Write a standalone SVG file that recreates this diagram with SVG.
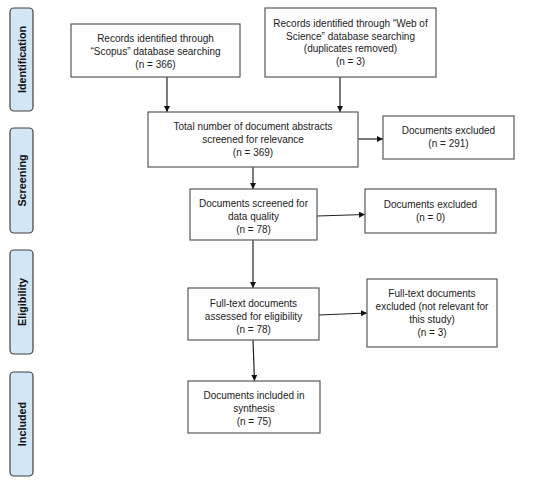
<svg xmlns="http://www.w3.org/2000/svg" width="552" height="483" viewBox="0 0 552 483">
<style>
.box{fill:#fff;stroke:#595959;stroke-width:1.2}
.side{fill:#d3e6f6;stroke:#404040;stroke-width:1.2}
.t{font-family:"Liberation Sans",Arial,sans-serif;font-size:10px;fill:#222;text-anchor:middle}
.s{font-family:"Liberation Sans",Arial,sans-serif;font-size:10.8px;font-weight:bold;fill:#111;text-anchor:middle}
.c{stroke:#222;stroke-width:1.2;fill:none;marker-end:url(#a)}
</style>
<defs>
<marker id="a" viewBox="0 0 10 10" refX="10" refY="5" markerWidth="6" markerHeight="6" markerUnits="userSpaceOnUse" orient="auto">
<path d="M0,0L10,5L0,10z" fill="#111"/>
</marker>
</defs>
<rect width="552" height="483" fill="#fff"/>
<g id="side-identification"><rect class="side" x="10" y="8" width="23" height="103" rx="4"/><text class="s" transform="translate(25.5,59.5) rotate(-90)">Identification</text></g>
<g id="side-screening"><rect class="side" x="10" y="128" width="23" height="105" rx="4"/><text class="s" transform="translate(25.5,180.5) rotate(-90)">Screening</text></g>
<g id="side-eligibility"><rect class="side" x="10" y="250" width="23" height="104" rx="4"/><text class="s" transform="translate(25.5,302) rotate(-90)">Eligibility</text></g>
<g id="side-included"><rect class="side" x="10" y="372" width="23" height="104" rx="4"/><text class="s" transform="translate(25.5,424) rotate(-90)">Included</text></g>
<g id="connectors">
<line class="c" x1="167" y1="77" x2="167" y2="112"/>
<line class="c" x1="340" y1="77" x2="340" y2="112"/>
<line class="c" x1="358" y1="139" x2="383" y2="139"/>
<line class="c" x1="253" y1="167" x2="253" y2="189"/>
<line class="c" x1="317" y1="216" x2="365" y2="214.5"/>
<line class="c" x1="253" y1="240" x2="253" y2="288"/>
<line class="c" x1="319" y1="315" x2="367" y2="313"/>
<line class="c" x1="253" y1="340" x2="254.5" y2="381"/>
</g>
<g id="scopus"><rect class="box" x="71" y="24" width="169" height="53"/>
<text class="t" x="155.5" y="42">Records identified through</text>
<text class="t" x="155.5" y="55">“Scopus” database searching</text>
<text class="t" x="155.5" y="68">(n = 366)</text></g>
<g id="wos"><rect class="box" x="265" y="8" width="171" height="69"/>
<text class="t" x="350.5" y="27">Records identified through “Web of</text>
<text class="t" x="350.5" y="39.5">Science” database searching</text>
<text class="t" x="350.5" y="52">(duplicates removed)</text>
<text class="t" x="350.5" y="64.5">(n = 3)</text></g>
<g id="total"><rect class="box" x="148" y="112" width="210" height="55"/>
<text class="t" x="253" y="130">Total number of document abstracts</text>
<text class="t" x="253" y="143">screened for relevance</text>
<text class="t" x="253" y="156">(n = 369)</text></g>
<g id="excl291"><rect class="box" x="383" y="116" width="131" height="43"/>
<text class="t" x="448.5" y="134">Documents excluded</text>
<text class="t" x="448.5" y="147">(n = 291)</text></g>
<g id="quality"><rect class="box" x="190" y="189" width="127" height="51"/>
<text class="t" x="253.5" y="207">Documents screened for</text>
<text class="t" x="253.5" y="220">data quality</text>
<text class="t" x="253.5" y="233">(n = 78)</text></g>
<g id="excl0"><rect class="box" x="365" y="189" width="131" height="44"/>
<text class="t" x="430.5" y="208">Documents excluded</text>
<text class="t" x="430.5" y="221">(n = 0)</text></g>
<g id="fulltext"><rect class="box" x="188" y="288" width="131" height="52"/>
<text class="t" x="253.5" y="307">Full-text documents</text>
<text class="t" x="253.5" y="320">assessed for eligibility</text>
<text class="t" x="253.5" y="333">(n = 78)</text></g>
<g id="excl3"><rect class="box" x="367" y="279" width="130" height="68"/>
<text class="t" x="432" y="297">Full-text documents</text>
<text class="t" x="432" y="310">excluded (not relevant for</text>
<text class="t" x="432" y="323">this study)</text>
<text class="t" x="432" y="336">(n = 3)</text></g>
<g id="included"><rect class="box" x="188" y="381" width="132" height="52"/>
<text class="t" x="254" y="399">Documents included in</text>
<text class="t" x="254" y="412">synthesis</text>
<text class="t" x="254" y="425">(n = 75)</text></g>
</svg>
